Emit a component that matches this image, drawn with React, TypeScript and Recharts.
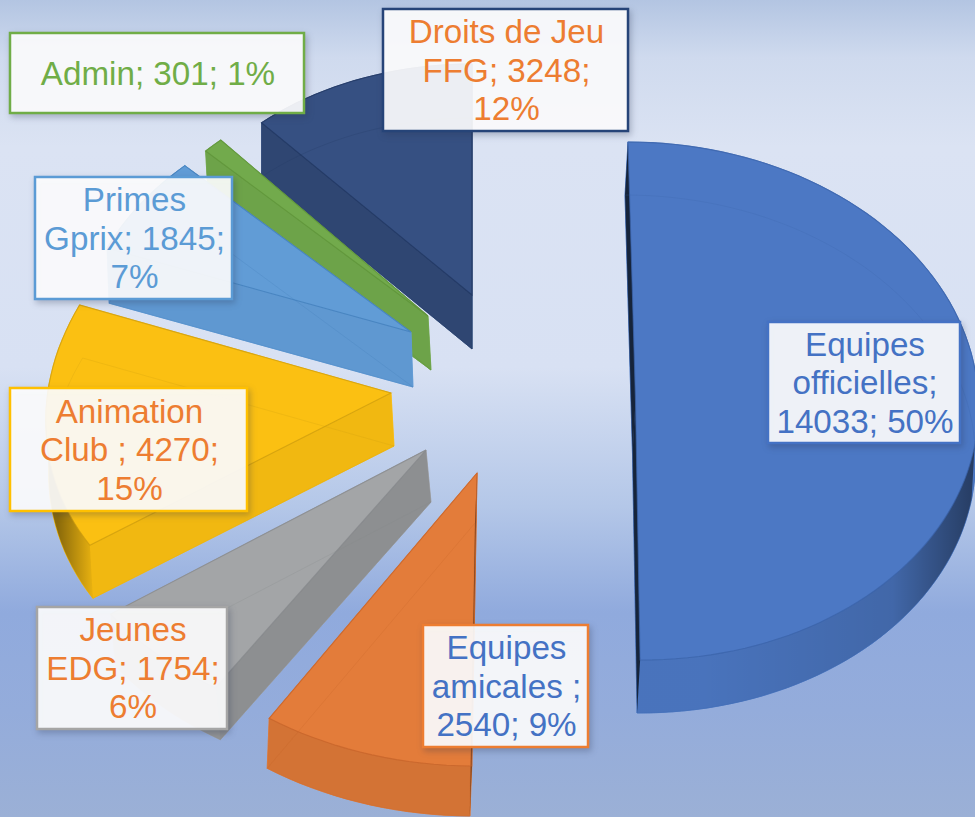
import { PieChart, Pie } from 'recharts';

// clockwise from the top the chart starts with Equipes officielles; recharts runs
// counterclockwise, so the lists go the other way and the back slices get painted first
const categories = ['Droits de Jeu FFG', 'Admin', 'Primes Gprix', 'Animation Club', 'Jeunes EDG', 'Equipes amicales', 'Equipes officielles'];
const values = [3248, 301, 1845, 4270, 1754, 2540, 14033];
const labelLines = [
  ['Droits de Jeu', 'FFG; 3248;', '12%'],
  ['Admin; 301; 1%'],
  ['Primes', 'Gprix; 1845;', '7%'],
  ['Animation', 'Club ; 4270;', '15%'],
  ['Jeunes', 'EDG; 1754;', '6%'],
  ['Equipes', 'amicales ;', '2540; 9%'],
  ['Equipes', 'officielles;', '14033; 50%'],
];

const sliceColors = ['#365082', '#72aa4c', '#619cd6', '#fbc012', '#a3a5a7', '#e37c3a', '#4c78c4'];
const lineColors = ['#1f3560', '#5d9138', '#3f7cb8', '#c99a10', '#84878a', '#c4622a', '#3a62a8'];
const textColors = ['#ed7d31', '#70ad47', '#5b9bd5', '#ed7d31', '#ed7d31', '#4472c4', '#4472c4'];
const borderColors = ['#264478', '#70ad47', '#5b9bd5', '#ffc000', '#a5a5a5', '#ed7d31', '#4472c4'];

// exploded 3D look: apex of the top face, ellipse radii, shear and extrusion of each slice
const sliceShapes = [
  { ax: 472, ay: 295, rx: 316, ry: 231, sx: 0, sy: 0, depth: 54, depthX: 0, endShade: 0.12, startShade: 0 },
  { ax: 428, ay: 316, rx: 311, ry: 236, sx: 0, sy: 0, depth: 54, depthX: 3, endShade: 0.04, startShade: 0 },
  { ax: 411, ay: 332, rx: 330, ry: 238, sx: 14, sy: 0, depth: 55, depthX: 2, endShade: 0.02, startShade: 0 },
  { ax: 391, ay: 393, rx: 344, ry: 263, sx: 30, sy: -5, depth: 53, depthX: 3, endShade: 0.04, startShade: 0 },
  { ax: 426, ay: 450, rx: 379, ry: 278, sx: 4, sy: -9, depth: 52, depthX: 5, endShade: 0.13, startShade: 0 },
  { ax: 477, ay: 473, rx: 377, ry: 293, sx: 2, sy: 0, depth: 50, depthX: -2, endShade: 0.5, startShade: 0 },
  { ax: 635.5, ay: 401, rx: 343, ry: 259, sx: -7.5, sy: 0, depth: 53, depthX: -3, endShade: 0.7, startShade: 0.7 },
];

const labelBoxes = [
  { x: 383, y: 9, w: 245, h: 122 },
  { x: 10, y: 33, w: 294, h: 80 },
  { x: 35, y: 177, w: 197, h: 122 },
  { x: 10, y: 388, w: 237, h: 123 },
  { x: 37, y: 607, w: 190, h: 122 },
  { x: 423, y: 625, w: 165, h: 122 },
  { x: 768, y: 322, w: 192, h: 121 },
];

const chartData = categories.map((name, i) => ({ name, value: values[i] }));

const RAD = Math.PI / 180;

function Slice3D(props: any) {
  const { startAngle, endAngle, index } = props;
  const g = sliceShapes[index];
  const color = sliceColors[index];
  const line = lineColors[index];

  const pt = (deg: number, level: number) => {
    const x = g.ax + g.rx * Math.cos(deg * RAD) + g.sx * Math.sin(deg * RAD) + level * g.depthX;
    const y = g.ay - g.ry * Math.sin(deg * RAD) + g.sy * Math.cos(deg * RAD) + level * g.depth;
    return `${x.toFixed(1)} ${y.toFixed(1)}`;
  };
  const arc = (a: number, b: number, level: number) => {
    const steps = Math.max(4, Math.ceil(Math.abs(b - a) / 2));
    const out: string[] = [];
    for (let i = 0; i <= steps; i++) out.push(pt(a + ((b - a) * i) / steps, level));
    return out;
  };
  const apex = (level: number) => `${g.ax + level * g.depthX} ${g.ay + level * g.depth}`;
  const wall = (a: number, b: number) => `M${arc(a, b, 0).join(' L')} L${arc(b, a, 1).join(' L')} Z`;

  const top = `M${apex(0)} L${arc(startAngle, endAngle, 0).join(' L')} Z`;
  const bottom = `M${apex(1)} L${arc(startAngle, endAngle, 1).join(' L')} Z`;
  const outerWall = wall(startAngle, endAngle);
  const startWall = `M${apex(0)} L${pt(startAngle, 0)} L${pt(startAngle, 1)} L${apex(1)} Z`;
  const endWall = `M${apex(0)} L${pt(endAngle, 0)} L${pt(endAngle, 1)} L${apex(1)} Z`;

  const gradId = `wall-${index}`;

  return (
    <g>
      {index === 6 && (
        <linearGradient id={gradId} gradientUnits="userSpaceOnUse" x1="700" y1="0" x2="975" y2="0">
          <stop offset="0" stopColor="#000" stopOpacity={0.04} />
          <stop offset="0.7" stopColor="#000" stopOpacity={0.14} />
          <stop offset="1" stopColor="#000" stopOpacity={0.5} />
        </linearGradient>
      )}
      {index === 3 && (
        <linearGradient id={gradId} gradientUnits="userSpaceOnUse" x1="58" y1="0" x2="98" y2="0">
          <stop offset="0" stopColor="#000" stopOpacity={0.45} />
          <stop offset="1" stopColor="#000" stopOpacity={0.02} />
        </linearGradient>
      )}
      {[bottom, outerWall, startWall, endWall, top].map((d, i) => (
        <path key={i} d={d} fill={color} stroke={color} strokeWidth={0.6} />
      ))}
      {index === 6 && <path d={wall(startAngle, 350)} fill={`url(#${gradId})`} />}
      {index === 3 && <path d={wall(endAngle - 30, endAngle)} fill={`url(#${gradId})`} />}
      {index === 5 && <path d={outerWall} fill="#000" fillOpacity={0.07} />}
      {index === 4 && <path d={outerWall} fill="#000" fillOpacity={0.1} />}
      <path d={startWall} fill="#000" fillOpacity={g.startShade} />
      <path d={endWall} fill="#000" fillOpacity={g.endShade} />
      <path d={bottom} fill="none" stroke={line} strokeWidth={1} strokeOpacity={0.22} />
      <path d={top} fill="none" stroke={line} strokeWidth={1.1} strokeOpacity={0.7} />
    </g>
  );
}

function SliceLabel(props: any) {
  const i = props.index;
  const box = labelBoxes[i];
  const lines = labelLines[i];
  const lineHeight = 38.5;
  const firstBaseline = box.y + box.h / 2 - ((lines.length - 1) * lineHeight) / 2 + 11.5;
  const textX = box.x + box.w / 2 + 1;
  return (
    <g>
      <rect
        x={box.x}
        y={box.y}
        width={box.w}
        height={box.h}
        fill="#fff"
        fillOpacity={0.91}
        stroke={borderColors[i]}
        strokeWidth={2.5}
        style={{ filter: 'drop-shadow(2px 3px 3px rgba(40,50,80,0.3))' }}
      />
      <text
        x={textX}
        textAnchor="middle"
        fontFamily="'Liberation Sans', Arial, sans-serif"
        fontSize={33.2}
        fill={textColors[i]}
      >
        {lines.map((l, n) => (
          <tspan key={n} x={textX} y={firstBaseline + n * lineHeight}>
            {l}
          </tspan>
        ))}
      </text>
    </g>
  );
}

export default function App() {
  return (
    <div
      style={{
        position: 'absolute',
        left: 0,
        top: 0,
        width: 975,
        height: 817,
        overflow: 'hidden',
        background:
          'linear-gradient(180deg, #b3c5e2 0%, #cfdaee 7%, #dbe3f3 18%, #d8e1f3 45%, #b4c7e8 62%, #90aadd 75%, #94acdb 87%, #9bb0d6 100%)',
      }}
    >
      <PieChart width={975} height={817} margin={{ top: 0, right: 0, bottom: 0, left: 0 }}>
        <Pie
          data={chartData}
          dataKey="value"
          nameKey="name"
          cx={487}
          cy={408}
          outerRadius={300}
          startAngle={90}
          endAngle={450}
          shape={Slice3D}
          label={SliceLabel}
          labelLine={false}
          isAnimationActive={false}
        />
      </PieChart>
    </div>
  );
}
